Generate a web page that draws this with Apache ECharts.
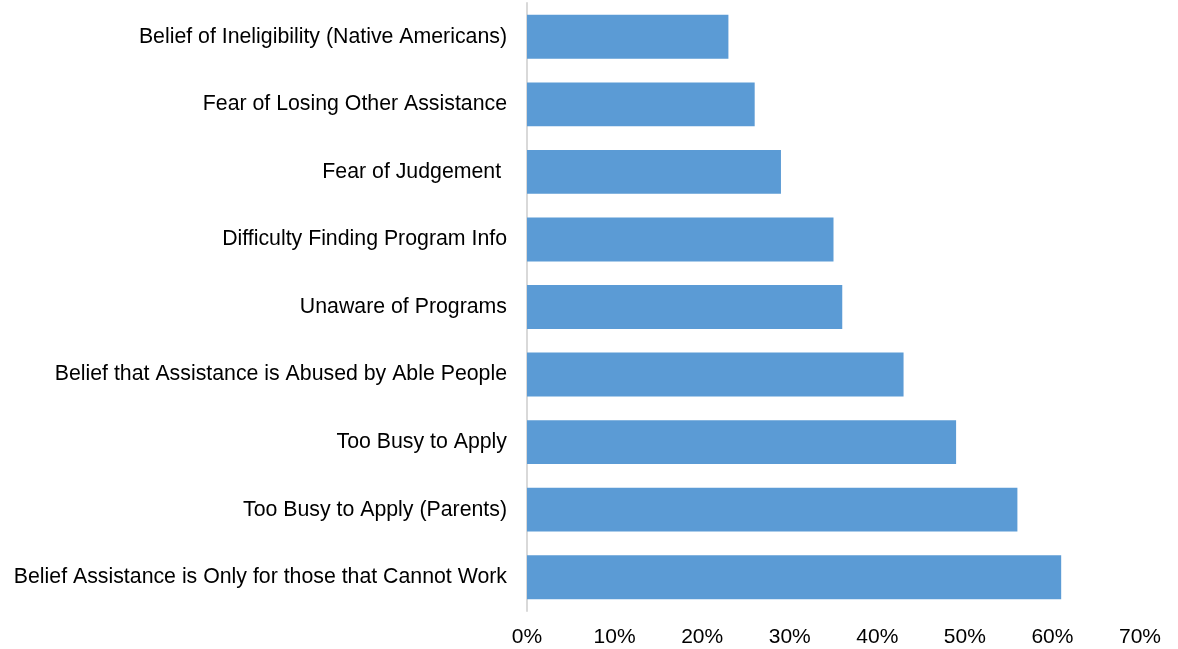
<!DOCTYPE html>
<html>
<head>
<meta charset="utf-8">
<script src="https://cdn.jsdelivr.net/npm/echarts@6/dist/echarts.min.js"></script>
<style>
  html, body { margin: 0; padding: 0; background: #fff; }
  #main { width: 1178px; height: 649px; }
</style>
</head>
<body>
<div id="main"></div>
<script>
// top to bottom, as in the picture
const categories = [
  'Belief of Ineligibility (Native Americans)',
  'Fear of Losing Other Assistance',
  'Fear of Judgement ',
  'Difficulty Finding Program Info',
  'Unaware of Programs',
  'Belief that Assistance is Abused by Able People',
  'Too Busy to Apply',
  'Too Busy to Apply (Parents)',
  'Belief Assistance is Only for those that Cannot Work'
];
const values = [0.23, 0.26, 0.29, 0.35, 0.36, 0.43, 0.49, 0.56, 0.61];
const xTicks = [0, 0.1, 0.2, 0.3, 0.4, 0.5, 0.6, 0.7];

const chart = echarts.init(document.getElementById('main'));

const option = {
  animation: false,
  grid: { left: 527, right: 38, top: 3, bottom: 38, containLabel: false },
  xAxis: {
    type: 'value',
    min: xTicks[0],
    max: xTicks[xTicks.length - 1],
    interval: 0.1,
    axisLine: { show: false },
    axisTick: { show: false },
    splitLine: { show: false },
    axisLabel: {
      margin: 16,
      color: '#000',
      fontFamily: 'Liberation Sans, Arial, sans-serif',
      fontSize: 21,
      formatter: v => Math.round(v * 100) + '%'
    }
  },
  yAxis: {
    type: 'category',
    inverse: true,
    data: categories,
    axisLine: { show: true, lineStyle: { color: '#d9d9d9', width: 2 } },
    axisTick: { show: false },
    axisLabel: {
      margin: 20,
      padding: [4, 0, 0, 0],
      color: '#000',
      fontFamily: 'Liberation Sans, Arial, sans-serif',
      fontSize: 21.3
    }
  },
  series: [
    {
      type: 'bar',
      data: values,
      barCategoryGap: '35%',
      itemStyle: { color: '#5b9bd5' }
    }
  ]
};

chart.setOption(option);
</script>
</body>
</html>
